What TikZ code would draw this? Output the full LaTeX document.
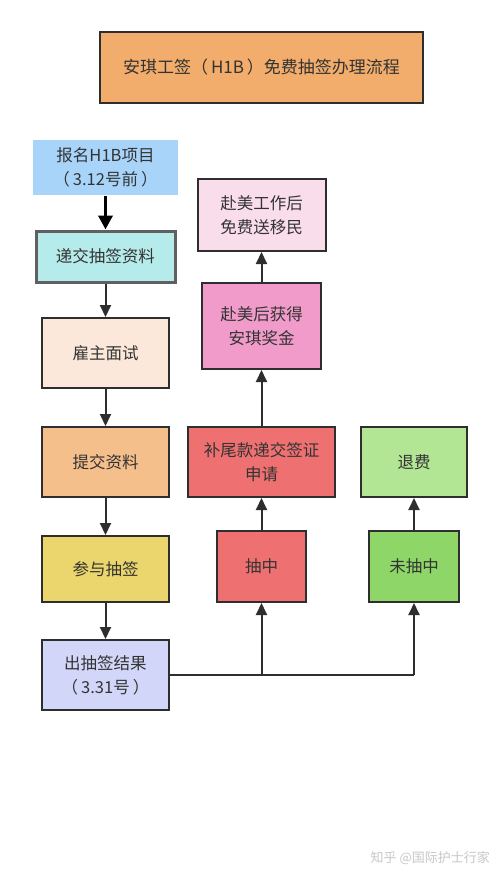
\documentclass[tikz,border=0pt]{standalone}
\usepackage{fontspec}
\setmainfont{Noto Sans CJK SC}
\usetikzlibrary{arrows.meta}
\definecolor{ink}{HTML}{2E2E2E}
\definecolor{txt}{HTML}{333333}
\definecolor{ctitle}{HTML}{F2AC6B}
\definecolor{cblue}{HTML}{A8D4FA}
\definecolor{ccyan}{HTML}{B5EBEA}
\definecolor{cpeach}{HTML}{FCE8DA}
\definecolor{corange}{HTML}{F5BF8C}
\definecolor{cyellow}{HTML}{EAD66C}
\definecolor{clav}{HTML}{D2D6F8}
\definecolor{cred}{HTML}{EE7070}
\definecolor{cgreen}{HTML}{8FD668}
\definecolor{clgreen}{HTML}{B2E594}
\definecolor{cpink}{HTML}{F09BC9}
\definecolor{clpink}{HTML}{FADDEB}
\newcommand{\gp}{\kern3pt}
\tikzset{
  box/.style={rectangle, draw=ink, line width=2pt, inner sep=0pt, align=center,
    text=txt, font=\fontsize{16.5}{24}\selectfont},
  conn/.style={draw=ink, line width=2pt},
  arr/.style={conn, -{Triangle[length=12pt,width=11pt]}},
}
\begin{document}
\begin{tikzpicture}[x=1pt,y=-1pt]
\useasboundingbox[fill=white] (0,0) rectangle (500,879);
\node[box, fill=ctitle, minimum width=323pt, minimum height=71pt, font=\fontsize{17}{24}\selectfont] (title) at (261.5,67.5) {安琪工签（\gp H1B\gp）免费抽签办理流程};
\node[box, draw=none, fill=cblue, minimum width=145pt, minimum height=55pt] (b1) at (105.5,167.5) {报名H1B项目\\（\gp 3.12号前\gp）};
\node[box, draw=gray!75!black, line width=3pt, fill=ccyan, minimum width=139pt, minimum height=51pt] (b2) at (105.5,256.5) {递交抽签资料};
\node[box, fill=cpeach, minimum width=127pt, minimum height=70pt] (b3) at (105.5,353) {雇主面试};
\node[box, fill=corange, minimum width=127pt, minimum height=70pt] (b4) at (105.5,462) {提交资料};
\node[box, fill=cyellow, minimum width=127pt, minimum height=66pt] (b5) at (105.5,569) {参与抽签};
\node[box, fill=clav, minimum width=127pt, minimum height=70pt] (b6) at (105.5,675) {出抽签结果\\（\gp 3.31号\gp）};
\node[box, fill=cred, minimum width=89pt, minimum height=71pt] (hit) at (261.5,566.5) {抽中};
\node[box, fill=cgreen, minimum width=90pt, minimum height=71pt] (miss) at (414,566.5) {未抽中};
\node[box, fill=cred, minimum width=147pt, minimum height=70pt] (pay) at (261.5,462) {补尾款递交签证\\申请};
\node[box, fill=clgreen, minimum width=106pt, minimum height=70pt] (refund) at (414,462) {退费};
\node[box, fill=cpink, minimum width=119pt, minimum height=86pt] (bonus) at (261.5,326) {赴美后获得\\安琪奖金};
\node[box, fill=clpink, minimum width=128pt, minimum height=72pt] (imm) at (261.5,215) {赴美工作后\\免费送移民};
\draw[draw=black, line width=3.5pt, -{Triangle[length=14pt,width=14pt]}] (b1) -- (b2);
\draw[arr] (b2) -- (b3);
\draw[arr] (b3) -- (b4);
\draw[arr] (b4) -- (b5);
\draw[arr] (b5) -- (b6);
\coordinate (j1) at (hit.south |- b6.east);
\coordinate (j2) at (miss.south |- b6.east);
\draw[conn] (b6.east) -- (j2);
\draw[arr] (j1) -- (hit.south);
\draw[arr] (j2) -- (miss.south);
\draw[arr] (hit) -- (pay);
\draw[arr] (pay) -- (bonus);
\draw[arr] (bonus) -- (imm);
\draw[arr] (miss) -- (refund);
\node[text=black!22, font=\fontsize{13}{16}\selectfont, anchor=east, inner sep=0pt] (wm) at (490,858) {知乎 @国际护士行家};
\end{tikzpicture}
\end{document}
